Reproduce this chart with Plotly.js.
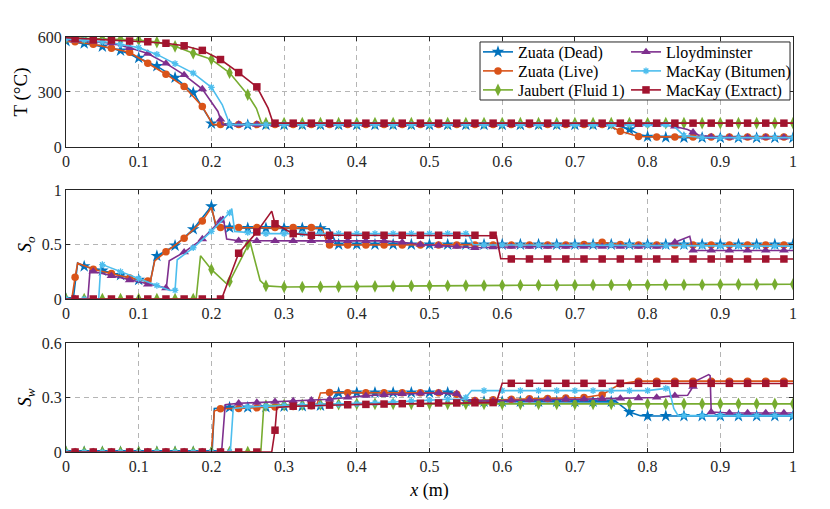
<!DOCTYPE html>
<html>
<head>
<meta charset="utf-8">
<script src="https://cdn.plot.ly/plotly-3.0.1.min.js"></script>
<style>html,body{margin:0;padding:0;background:#fff;}#chart{width:830px;height:509px;}</style>
</head>
<body>
<div id="chart"></div>
<script>
// ---------- marker grids (x in m) ----------
const gridA = [0,0.025,0.05,0.075,0.1,0.125,0.15,0.175,0.2,0.225,0.25,0.275,0.3,0.325,0.35,0.375,0.4,0.425,0.45,0.475,0.5,0.525,0.55,0.575,0.6,0.625,0.65,0.675,0.7,0.725,0.75,0.775,0.8,0.825,0.85,0.875,0.9,0.925,0.95,0.975,1];
const gridB = [0.0125,0.0375,0.0625,0.0875,0.1125,0.1375,0.1625,0.1875,0.2125,0.2375,0.2625,0.2875,0.3125,0.3375,0.3625,0.3875,0.4125,0.4375,0.4625,0.4875,0.5125,0.5375,0.5625,0.5875,0.6125,0.6375,0.6625,0.6875,0.7125,0.7375,0.7625,0.7875,0.8125,0.8375,0.8625,0.8875,0.9125,0.9375,0.9625,0.9875];

const seriesNames = ["Zuata (Dead)","Zuata (Live)","Jaubert (Fluid 1)","Lloydminster","MacKay (Bitumen)","MacKay (Extract)"];

// ---------- Panel 1: Temperature T (°C) ----------
const deadT = [578,565,548,526,486,441,378,297,128,120,120,120,120,120,120,120,120,120,120,120,120,120,120,120,120,120,120,120,120,120,120,96,56,52,51,51,50,50,50,50,50];
const deadTx = [0.198,0.203,0.757,0.79];
const deadTy = [150,120,118,66];
const liveT = [574,560,538,517,457,397,330,221,122,122,122,122,122,122,122,122,122,122,122,122,122,122,122,122,122,122,122,122,122,122,86,57,55,55,55,55,55,55,55,55];
const liveTx = [0,0.202,0.745,1];
const liveTy = [576,122,121,55];
const jauT = [596,593,590,588,584,572,549,512,478,405,285,130,130,130,130,130,130,130,130,130,130,130,130,130,130,130,130,130,130,130,130,130,130,130,130,130,130,130,130,130,130];
const jauTx = [0.262,0.269];
const jauTy = [210,130];
const lloT = [582,576,566,541,510,456,393,316,150,122,122,122,122,122,122,122,122,122,122,122,122,122,122,122,122,122,122,122,122,122,122,122,122,112,80,55,52,52,52,52];
const lloTx = [0,0.209,0.215,0.82,0.855,0.87,1];
const lloTy = [584,194,122,122,95,65,52];
const bitT = [589,584,575,560,542,505,455,403,325,125,122,122,122,122,122,122,122,122,122,122,122,122,122,122,122,122,122,122,122,122,122,122,122,122,62,52,51,51,51,51,51];
const bitTx = [0.215,0.226,0.835];
const bitTy = [230,122,118];
const extT = [593,585,583,578,574,566,552,527,477,406,328,130,130,130,130,130,130,130,130,130,130,130,130,130,130,130,130,130,130,130,130,130,130,130,130,130,130,130,130,130];
const extTx = [0,0.278,0.285,1];
const extTy = [596,212,130,130];

// ---------- Panel 2: oil saturation So ----------
const deadS = [0,0.3,0.26,0.22,0.175,0.395,0.49,0.64,0.85,0.655,0.65,0.65,0.65,0.65,0.648,0.5,0.5,0.5,0.5,0.5,0.5,0.5,0.5,0.5,0.5,0.5,0.5,0.5,0.5,0.5,0.5,0.5,0.5,0.5,0.5,0.5,0.5,0.5,0.5,0.5,0.5];
const deadSx = [0.01,0.016,0.116,0.122,0.206,0.362,0.372];
const deadSy = [0,0.33,0.16,0.36,0.67,0.645,0.505];
const liveS = [0.2,0.272,0.235,0.192,0.165,0.433,0.557,0.715,0.655,0.655,0.655,0.655,0.655,0.655,0.495,0.495,0.495,0.495,0.495,0.495,0.495,0.495,0.495,0.495,0.495,0.495,0.495,0.495,0.5,0.52,0.5,0.495,0.495,0.495,0.495,0.495,0.495,0.495,0.495,0.495];
const liveSx = [0,0.008,0.016,0.116,0.122,0.2,0.207,0.352,0.36,1];
const liveSy = [0,0,0.33,0.158,0.35,0.84,0.66,0.65,0.5,0.495];
const jauS = [0,0,0,0,0,0,0,0,0.27,0.16,0.5,0.12,0.11,0.11,0.112,0.113,0.115,0.116,0.118,0.12,0.121,0.122,0.123,0.124,0.125,0.126,0.126,0.127,0.127,0.128,0.128,0.129,0.129,0.13,0.13,0.131,0.133,0.134,0.134,0.135,0.135];
const jauSx = [0.179,0.185,0.205,0.221,0.253,0.267];
const jauSy = [0,0.397,0.24,0.14,0.527,0.17];
const lloS = [0,0.253,0.213,0.173,0.133,0.1,0.43,0.55,0.72,0.535,0.533,0.533,0.533,0.533,0.533,0.533,0.533,0.533,0.52,0.5,0.49,0.48,0.47,0.475,0.48,0.48,0.48,0.48,0.48,0.48,0.48,0.48,0.48,0.52,0.445,0.445,0.445,0.445,0.445,0.445];
const lloSx = [0,0.03,0.033,0.134,0.138,0.142,0.216,0.221,0.821,0.858,0.864,1];
const lloSy = [0,0,0.26,0.1,0.1,0.35,0.76,0.55,0.48,0.575,0.445,0.445];
const bitS = [0,0,0.315,0.25,0.187,0.124,0.08,0.47,0.62,0.79,0.61,0.6,0.6,0.6,0.6,0.6,0.6,0.6,0.6,0.6,0.6,0.6,0.6,0.495,0.495,0.495,0.495,0.495,0.495,0.495,0.495,0.495,0.495,0.49,0.49,0.487,0.485,0.485,0.485,0.485,0.485];
const bitSx = [0.045,0.048,0.143,0.148,0.153,0.228,0.232,0.553,0.56];
const bitSy = [0,0.32,0.078,0.08,0.36,0.83,0.62,0.6,0.5];
const extS = [0,0,0,0,0,0,0,0,0,0.42,0.615,0.69,0.6,0.585,0.585,0.585,0.585,0.585,0.585,0.585,0.585,0.585,0.585,0.585,0.367,0.367,0.367,0.367,0.367,0.367,0.367,0.367,0.367,0.367,0.367,0.367,0.367,0.367,0.367,0.367];
const extSx = [0,0.214,0.283,0.287,0.592,0.598,1];
const extSy = [0,0,0.806,0.7,0.58,0.37,0.367];

// ---------- Panel 3: water saturation Sw ----------
const deadW = [0,0,0,0,0,0,0,0,0,0.245,0.245,0.247,0.25,0.252,0.255,0.325,0.327,0.327,0.327,0.327,0.327,0.327,0.28,0.277,0.277,0.277,0.277,0.277,0.277,0.277,0.277,0.22,0.198,0.198,0.198,0.198,0.198,0.198,0.198,0.198,0.198];
const deadWx = [0.201,0.204,0.362,0.372,0.538,0.548,0.757,0.79];
const deadWy = [0,0.24,0.257,0.325,0.327,0.285,0.276,0.2];
const liveW = [0,0,0,0,0,0,0,0,0.238,0.24,0.243,0.247,0.25,0.255,0.327,0.326,0.326,0.326,0.326,0.326,0.326,0.318,0.283,0.287,0.29,0.293,0.295,0.297,0.3,0.315,0.375,0.39,0.39,0.39,0.39,0.39,0.39,0.39,0.39,0.39];
const liveWx = [0,0.2,0.204,0.345,0.35,0.548,1];
const liveWy = [0,0,0.225,0.258,0.325,0.285,0.39];
const jauW = [0,0,0,0,0,0,0,0,0,0,0,0.255,0.258,0.26,0.262,0.263,0.265,0.265,0.265,0.265,0.265,0.265,0.265,0.265,0.265,0.265,0.265,0.265,0.265,0.265,0.265,0.265,0.265,0.265,0.265,0.265,0.265,0.265,0.265,0.265,0.265];
const jauWx = [0.268,0.272];
const jauWy = [0,0.25];
const lloW = [0,0,0,0,0,0,0,0,0,0.268,0.272,0.277,0.28,0.285,0.29,0.3,0.31,0.315,0.32,0.322,0.325,0.32,0.28,0.282,0.285,0.287,0.289,0.29,0.291,0.293,0.295,0.297,0.3,0.31,0.36,0.22,0.215,0.215,0.215,0.215];
const lloWx = [0.214,0.219,0.545,0.855,0.86,0.866,0.884,0.886,1];
const lloWy = [0,0.26,0.29,0.312,0.344,0.39,0.426,0.42,0.215];
const bitW = [0,0,0,0,0,0,0,0,0,0,0.248,0.252,0.255,0.258,0.26,0.262,0.265,0.27,0.275,0.28,0.285,0.29,0.3,0.338,0.338,0.338,0.338,0.338,0.338,0.338,0.338,0.338,0.338,0.35,0.2,0.2,0.2,0.2,0.2,0.2,0.2];
const bitWx = [0.226,0.23,0.548,0.558,0.829,0.836,0.842];
const bitWy = [0,0.24,0.29,0.338,0.357,0.24,0.2];
const extW = [0,0,0,0,0,0,0,0,0,0,0,0.12,0.252,0.256,0.258,0.26,0.262,0.264,0.266,0.268,0.27,0.27,0.271,0.272,0.378,0.378,0.378,0.378,0.378,0.378,0.378,0.378,0.378,0.378,0.378,0.378,0.378,0.378,0.378,0.378];
const extWx = [0,0.283,0.29,0.592,0.6,1];
const extWy = [0,0,0.245,0.272,0.378,0.377];

// ---------- styles ----------
const colors = ["#0072BD","#D95319","#77AC30","#7E2F8E","#4DBEEE","#A2142F"];
const symbols = ["star","circle","diamond-tall","triangle-up","asterisk-open","square"];
const msizes = [9.5,7.5,9,8.5,5.5,7.5];
const grids = [gridA,gridB,gridA,gridB,gridA,gridB];

const panels = [
  {ax:"", data:[[deadT,deadTx,deadTy],[liveT,liveTx,liveTy],[jauT,jauTx,jauTy],[lloT,lloTx,lloTy],[bitT,bitTx,bitTy],[extT,extTx,extTy]]},
  {ax:"2", data:[[deadS,deadSx,deadSy],[liveS,liveSx,liveSy],[jauS,jauSx,jauSy],[lloS,lloSx,lloSy],[bitS,bitSx,bitSy],[extS,extSx,extSy]]},
  {ax:"3", data:[[deadW,deadWx,deadWy],[liveW,liveWx,liveWy],[jauW,jauWx,jauWy],[lloW,lloWx,lloWy],[bitW,bitWx,bitWy],[extW,extWx,extWy]]}
];

function merge(gx, gy, ex, ey){
  const pts = gx.map((x,i)=>[x,gy[i]]).concat(ex.map((x,i)=>[x,ey[i]]));
  pts.sort((a,b)=>a[0]-b[0]);
  return {x:pts.map(p=>p[0]), y:pts.map(p=>p[1])};
}
function markerStyle(s){
  const m = {symbol:symbols[s], size:msizes[s], color:colors[s], line:{width:0}};
  if(symbols[s]==="asterisk-open") m.line = {width:1.3, color:colors[s]};
  return m;
}

const traces = [];
panels.forEach(p=>{
  p.data.forEach((d,s)=>{
    const m = merge(grids[s], d[0], d[1], d[2]);
    traces.push({x:m.x, y:m.y, mode:"lines", line:{color:colors[s], width:1.6},
      xaxis:"x"+p.ax, yaxis:"y"+p.ax, showlegend:false, hoverinfo:"skip"});
    traces.push({x:grids[s], y:d[0], mode:"markers", marker:markerStyle(s),
      xaxis:"x"+p.ax, yaxis:"y"+p.ax, showlegend:false, hoverinfo:"skip"});
  });
});
// legend entries: one small legend per entry, arranged 2 columns x 3 rows
const legIds = ["legend","legend2","legend3","legend4","legend5","legend6"];
seriesNames.forEach((n,s)=>{
  traces.push({x:[null], y:[null], mode:"lines+markers", name:n, legend:legIds[s],
    line:{color:colors[s], width:1.6}, marker:markerStyle(s), xaxis:"x", yaxis:"y"});
});

const FONT = "Liberation Serif";
const tickFont = {family:FONT, size:16, color:"#262626"};
function xax(anchor){
  return {domain:[0,1], anchor:anchor, range:[0,1], tick0:0, dtick:0.1, ticks:"inside", ticklen:4,
    tickcolor:"#262626", showline:true, linecolor:"#262626", linewidth:1, mirror:"ticks",
    showgrid:true, gridcolor:"#b5b5b5", griddash:"5px,4px", gridwidth:1, zeroline:false,
    tickfont:tickFont, automargin:false};
}
function yax(anchor, dom, rng, tv, title){
  return {domain:dom, anchor:anchor, range:rng, tickvals:tv, ticks:"inside", ticklen:4,
    tickcolor:"#262626", showline:true, linecolor:"#262626", linewidth:1, mirror:"ticks",
    showgrid:true, gridcolor:"#b5b5b5", griddash:"5px,4px", gridwidth:1, zeroline:false,
    tickfont:tickFont, automargin:false,
    title:{text:title, font:{family:FONT, size:19, color:"#000"}, standoff:5}};
}

const x3 = xax("y3");
x3.title = {text:"<i>x</i> (m)", font:{family:FONT, size:18, color:"#000"}, standoff:9};

function leg(x, y){
  return {xref:"paper", yref:"paper", xanchor:"left", yanchor:"middle", x:x, y:y,
    bgcolor:"rgba(0,0,0,0)", borderwidth:0, font:{family:FONT, size:16, color:"#000"},
    itemwidth:30, orientation:"v", itemclick:false, itemdoubleclick:false};
}
const colX = [0.5667, 0.7703];
const rowY = [0.9639, 0.9181, 0.8723];

const layout = {
  width:830, height:509,
  margin:{l:66, r:37, t:37, b:57},
  paper_bgcolor:"#fff", plot_bgcolor:"#fff",
  font:{family:FONT},
  showlegend:true,
  xaxis: xax("y"),
  xaxis2: xax("y2"),
  xaxis3: x3,
  yaxis: yax("x", [0.735,1], [0,600], [0,300,600], "T (°C)"),
  yaxis2: yax("x2", [0.3687,0.6313], [0,1], [0,0.5,1], "<i>S<sub>o</sub></i>"),
  yaxis3: yax("x3", [0,0.2627], [0,0.6], [0,0.3,0.6], "<i>S<sub>w</sub></i>"),
  legend: leg(colX[0], rowY[0]),
  legend2: leg(colX[0], rowY[1]),
  legend3: leg(colX[0], rowY[2]),
  legend4: leg(colX[1], rowY[0]),
  legend5: leg(colX[1], rowY[1]),
  legend6: leg(colX[1], rowY[2]),
  shapes:[{type:"rect", xref:"paper", yref:"paper", x0:0.5695, x1:0.9959, y0:0.8482, y1:0.988,
    fillcolor:"#fff", line:{color:"#262626", width:1}, layer:"above"}]
};

Plotly.newPlot("chart", traces, layout, {staticPlot:true, displayModeBar:false});
</script>
</body>
</html>
